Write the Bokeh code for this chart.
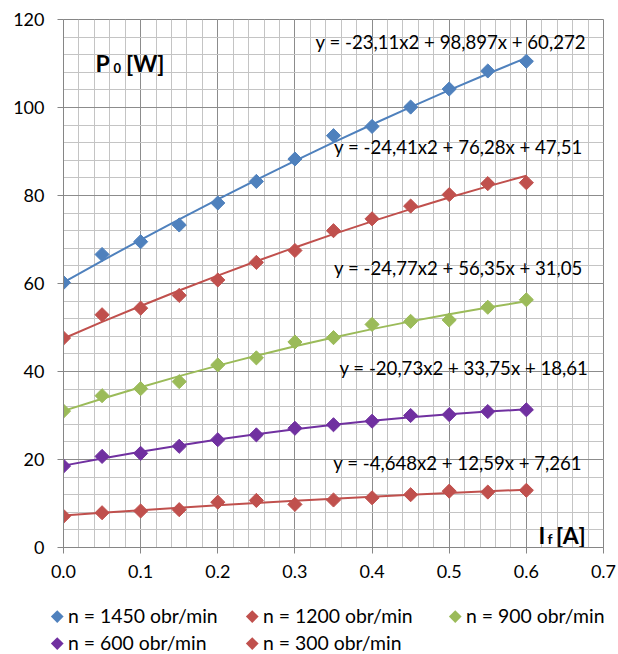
import numpy as np
from bokeh.plotting import figure
from bokeh.layouts import column
from bokeh.models import Range1d, FixedTicker, PrintfTickFormatter, Div
from bokeh.core.properties import value
from bokeh.embed import file_html
from bokeh.resources import INLINE

# ---------------- data ----------------
i_f = [0.0, 0.05, 0.1, 0.15, 0.2, 0.25, 0.3, 0.35, 0.4, 0.45, 0.5, 0.55, 0.6]
p0_1450 = [60.2, 66.6, 69.5, 73.3, 78.3, 83.2, 88.3, 93.6, 95.7, 100.1, 104.2, 108.3, 110.5]
p0_1200 = [47.6, 52.9, 54.4, 57.3, 60.8, 64.8, 67.5, 72.0, 74.7, 77.6, 80.2, 82.7, 82.9]
p0_900 = [31.0, 34.5, 36.1, 37.7, 41.5, 43.1, 46.7, 47.7, 50.7, 51.4, 51.7, 54.6, 56.3]
p0_600 = [18.5, 20.7, 21.4, 23.0, 24.5, 25.6, 27.1, 27.9, 28.7, 30.0, 30.2, 30.9, 31.3]
p0_300 = [7.1, 7.9, 8.3, 8.6, 10.3, 10.7, 9.8, 10.8, 11.3, 12.0, 12.8, 12.6, 13.0]
series_names = ["n = 1450 obr/min", "n = 1200 obr/min", "n = 900 obr/min",
                "n = 600 obr/min", "n = 300 obr/min"]
trend_a = [-23.11, -24.41, -24.77, -20.73, -4.648]
trend_b = [98.897, 76.28, 56.35, 33.75, 12.59]
trend_c = [60.272, 47.51, 31.05, 18.61, 7.261]
trend_labels = ["y = -23,11x2 + 98,897x + 60,272",
                "y = -24,41x2 + 76,28x + 47,51",
                "y = -24,77x2 + 56,35x + 31,05",
                "y = -20,73x2 + 33,75x + 18,61",
                "y = -4,648x2 + 12,59x + 7,261"]
x_ticks = [0.0, 0.1, 0.2, 0.3, 0.4, 0.5, 0.6, 0.7]
y_ticks = [0, 20, 40, 60, 80, 100, 120]

# ---------------- styling / layout ----------------
series_values = [p0_1450, p0_1200, p0_900, p0_600, p0_300]
colors = ["#4F81BD", "#C0504D", "#9BBB59", "#7030A0", "#C0504D"]
label_x = [0.502, 0.512, 0.512, 0.519, 0.511]
label_y = [114.8, 91.1, 63.6, 40.7, 19.3]
FONT = "Lato"

p = figure(frame_width=540, frame_height=528,
           x_range=Range1d(0, 0.7), y_range=Range1d(0, 120),
           output_backend="svg", toolbar_location=None,
           min_border_left=63, min_border_right=15, min_border_top=19,
           min_border_bottom=50,
           background_fill_color="white", border_fill_color="white")

x_minor = [round(v, 2) for v in np.arange(0, 0.7001, 0.02)]
y_minor = list(range(0, 121, 4))
p.xaxis.ticker = FixedTicker(ticks=x_ticks, minor_ticks=x_minor)
p.yaxis.ticker = FixedTicker(ticks=y_ticks, minor_ticks=y_minor)
p.xaxis.formatter = PrintfTickFormatter(format="%.1f")

for ax in (p.xaxis[0], p.yaxis[0]):
    ax.major_label_text_font = FONT
    ax.major_label_text_font_size = "18px"
    ax.major_label_text_color = "black"
    ax.axis_line_color = "#868686"
    ax.major_tick_line_color = "#868686"
    ax.minor_tick_line_color = None
    ax.major_tick_in = 0
    ax.major_tick_out = 6
p.xaxis.major_label_standoff = 11
p.yaxis.major_label_standoff = 13

for g in (p.xgrid[0], p.ygrid[0]):
    g.grid_line_color = "#8C8C8C"
    g.grid_line_width = 1
    g.minor_grid_line_color = "#C4C4C4"
    g.minor_grid_line_width = 1
p.outline_line_color = "#868686"

xs = np.array(i_f)
for vals, col, a, b, c in zip(series_values, colors, trend_a, trend_b, trend_c):
    fit = a * xs ** 2 + b * xs + c
    p.line(xs, fit, line_color=col, line_width=2)
    p.scatter(i_f, vals, marker="square", angle=np.pi / 4, size=10,
              fill_color=col, line_color=col)

p.text(x=label_x, y=label_y, text=trend_labels, text_font=value(FONT),
       text_font_size="18.6px", text_align="center", text_baseline="middle",
       text_color="black")

# axis titles inside the plot
def add_title(x, y, txt, size):
    p.text(x=[x], y=[y], text=[txt], text_font=value(FONT), text_font_size=size,
           text_font_style="bold", text_baseline="alphabetic", text_color="black")

add_title(0.0415, 110.2, "P", "23px")
add_title(0.0648, 109.0, "0", "13px")
add_title(0.0810, 110.2, "[W]", "23px")
add_title(0.6158, 2.95, "I", "23px")
add_title(0.6274, 2.0, "f", "14px")
add_title(0.6385, 2.95, "[A]", "23px")

# ---------------- legend strip below the plot ----------------
leg_col_x = [57, 252, 455]
leg_row_y = [19, 46]
parts = []
for i, name in enumerate(series_names):
    cx = leg_col_x[i % 3]
    cy = leg_row_y[i // 3]
    parts.append(
        f'<div style="position:absolute;left:{cx - 4.25}px;top:{cy - 4.25}px;'
        f'width:8.5px;height:8.5px;background:{colors[i]};transform:rotate(45deg)"></div>')
    parts.append(
        f'<div style="position:absolute;left:{cx + 11}px;top:{cy - 12}px;height:24px;'
        f'line-height:24px;font-family:Lato;font-size:19.4px;color:#000;'
        f'white-space:nowrap">{name}</div>')
legend_div = Div(text='<div style="position:relative;width:618px;height:57px">'
                 + "".join(parts) + "</div>",
                 width=618, height=57, margin=0)

layout = column(p, legend_div, spacing=0)
open("out.html", "w").write(file_html(layout, INLINE))
